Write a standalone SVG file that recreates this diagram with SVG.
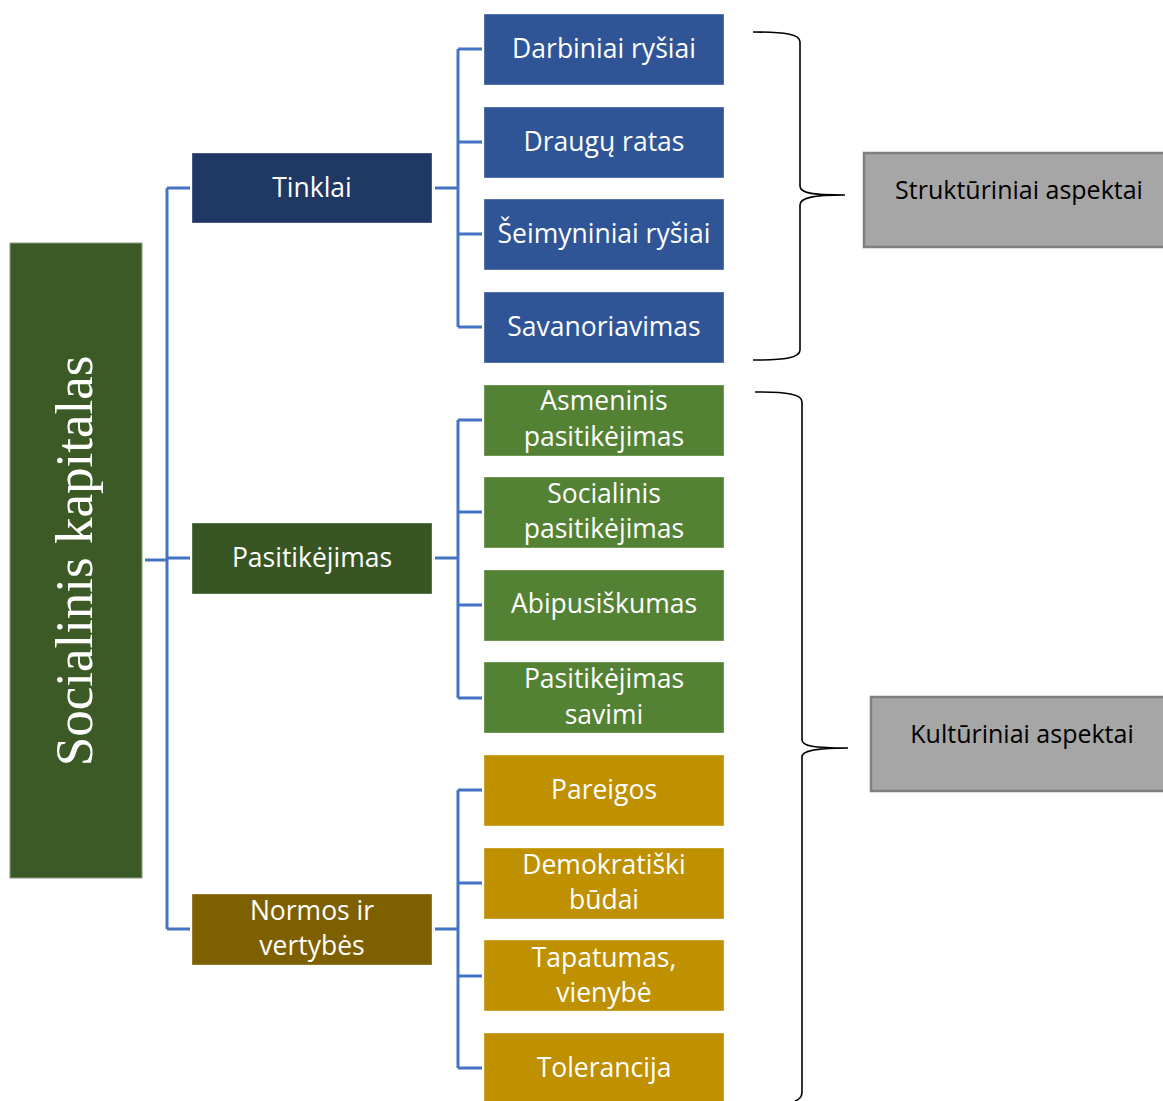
<svg xmlns="http://www.w3.org/2000/svg" width="1163" height="1101" viewBox="0 0 1163 1101">
<style>
.box{stroke:#ffffff;stroke-opacity:0.35;stroke-width:1}
.t{font-family:"Open Sans","Noto Sans","Liberation Sans",sans-serif;font-size:26.5px;fill:#ffffff;text-anchor:middle}
.a{font-family:"Open Sans","Noto Sans","Liberation Sans",sans-serif;font-size:25px;fill:#000000;text-anchor:middle}
.c{fill:none;stroke:#4472c4;stroke-width:3}
.br{fill:none;stroke:#000000;stroke-width:1.6}
.asp{fill:#a6a6a6;stroke:#7f7f7f;stroke-width:2.5}
.l1b{fill:#203864}.l1g{fill:#375623}.l1o{fill:#7f6000}
.l2b{fill:#2f5597}.l2g{fill:#548235}.l2o{fill:#bf9000}
</style>
<rect width="1163" height="1101" fill="#ffffff"/>
<g id="connectors">
<path class="c" d="M145,560 H167 M167,188 V929 M167,188 H190 M167,558 H190 M167,929 H190"/>
<path class="c" d="M435,188 H458 M458,49 V327 M458,49 H482 M458,142 H482 M458,234 H482 M458,327 H482"/>
<path class="c" d="M435,558 H458 M458,420 V698 M458,420 H482 M458,512 H482 M458,605 H482 M458,698 H482"/>
<path class="c" d="M435,929 H458 M458,790 V1068 M458,790 H482 M458,883 H482 M458,976 H482 M458,1068 H482"/>
</g>
<g id="braces">
<path class="br" d="M753,32 C785,32 800,34 800,42 L800,186 C800,193 812,195 845,195 C812,195 800,198 800,205 L800,350 C800,358 785,360 753,360"/>
<path class="br" d="M755,392 C787,392 802,394 802,402 L802,740 C802,746 814,748 848,748 C814,748 802,751 802,757 L802,1092 C802,1098 798,1100 795,1101"/>
</g>
<g id="root">
<rect x="10" y="243" width="132" height="635" fill="#3c5a25" stroke="#8a9a80" stroke-width="1"/>
<text transform="translate(92,561) rotate(-90)" x="0" y="0" text-anchor="middle" font-family="'Liberation Serif','DejaVu Serif',serif" font-size="53" fill="#ffffff">Socialinis kapitalas</text>
</g>
<g id="tinklai"><rect class="box l1b" x="192" y="153" width="240" height="70"/><text class="t" x="312" y="197">Tinklai</text></g>
<g id="pasitikejimas"><rect class="box l1g" x="192" y="523" width="240" height="71"/><text class="t" x="312" y="567">Pasitikėjimas</text></g>
<g id="normos"><rect class="box l1o" x="192" y="894" width="240" height="71"/><text class="t" x="312" y="920">Normos ir</text><text class="t" x="312" y="955">vertybės</text></g>

<g id="darbiniai"><rect class="box l2b" x="484" y="14" width="240" height="71"/><text class="t" x="604" y="58">Darbiniai ryšiai</text></g>
<g id="draugu"><rect class="box l2b" x="484" y="107" width="240" height="71"/><text class="t" x="604" y="151">Draugų ratas</text></g>
<g id="seimyniniai"><rect class="box l2b" x="484" y="199" width="240" height="71"/><text class="t" x="604" y="243">Šeimyniniai ryšiai</text></g>
<g id="savanoriavimas"><rect class="box l2b" x="484" y="292" width="240" height="71"/><text class="t" x="604" y="336">Savanoriavimas</text></g>

<g id="asmeninis"><rect class="box l2g" x="484" y="385" width="240" height="71"/><text class="t" x="604" y="410">Asmeninis</text><text class="t" x="604" y="446">pasitikėjimas</text></g>
<g id="socialinis"><rect class="box l2g" x="484" y="477" width="240" height="71"/><text class="t" x="604" y="503">Socialinis</text><text class="t" x="604" y="538">pasitikėjimas</text></g>
<g id="abipusiskumas"><rect class="box l2g" x="484" y="570" width="240" height="71"/><text class="t" x="604" y="613">Abipusiškumas</text></g>
<g id="savimi"><rect class="box l2g" x="484" y="662" width="240" height="71"/><text class="t" x="604" y="688">Pasitikėjimas</text><text class="t" x="604" y="724">savimi</text></g>

<g id="pareigos"><rect class="box l2o" x="484" y="755" width="240" height="71"/><text class="t" x="604" y="799">Pareigos</text></g>
<g id="demokratiski"><rect class="box l2o" x="484" y="848" width="240" height="71"/><text class="t" x="604" y="874">Demokratiški</text><text class="t" x="604" y="909">būdai</text></g>
<g id="tapatumas"><rect class="box l2o" x="484" y="940" width="240" height="71"/><text class="t" x="604" y="967">Tapatumas,</text><text class="t" x="604" y="1002">vienybė</text></g>
<g id="tolerancija"><rect class="box l2o" x="484" y="1033" width="240" height="70"/><text class="t" x="604" y="1077">Tolerancija</text></g>

<g id="strukturiniai"><rect class="asp" x="864" y="153" width="305" height="94"/><text class="a" x="1019" y="199">Struktūriniai aspektai</text></g>
<g id="kulturiniai"><rect class="asp" x="871" y="697" width="298" height="94"/><text class="a" x="1022" y="743">Kultūriniai aspektai</text></g>
</svg>
